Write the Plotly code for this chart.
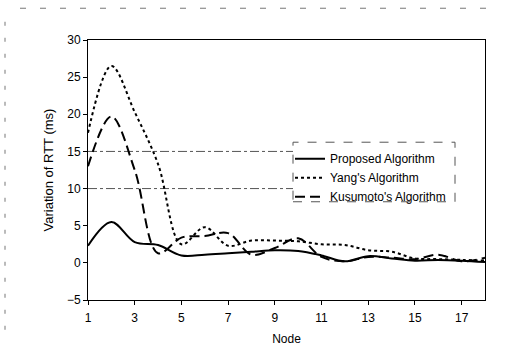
import plotly.graph_objects as go

nodes = list(range(1, 19))
proposed = [2.3, 5.5, 2.8, 2.4, 1.0, 1.1, 1.3, 1.5, 1.7, 1.6, 1.0, 0.2, 0.9, 0.6, 0.3, 0.4, 0.3, 0.1]
yang = [17.5, 26.5, 20.3, 13.3, 2.5, 4.8, 2.3, 3.0, 3.0, 2.9, 2.5, 2.4, 1.7, 1.5, 0.6, 0.5, 0.4, 0.3]
kusumoto = [13.0, 19.7, 12.5, 1.3, 3.4, 3.6, 4.0, 1.1, 2.0, 3.3, 0.8, 0.2, 0.8, 0.7, 0.5, 1.1, 0.2, 0.7]

x_ticks = [1, 3, 5, 7, 9, 11, 13, 15, 17]
y_ticks = [-5, 0, 5, 10, 15, 20, 25, 30]
grid_levels = [10, 15]

font = "Liberation Sans, Arial, sans-serif"

W, H = 526, 356
L, R, T, B = 88, 485, 40, 302
def px(v):
    return (v - L) / (R - L)
def py(v):
    return (B - v) / (B - T)

fig = go.Figure()
fig.add_trace(go.Scatter(x=nodes, y=proposed, name="Proposed Algorithm", mode="lines",
                         line=dict(color="black", width=2, shape="spline", smoothing=1.0)))
fig.add_trace(go.Scatter(x=nodes, y=yang, name="Yang's Algorithm", mode="lines",
                         line=dict(color="black", width=2, dash="dot", shape="spline", smoothing=1.0)))
fig.add_trace(go.Scatter(x=nodes, y=kusumoto, name="Kusumoto's Algorithm", mode="lines",
                         line=dict(color="black", width=2, dash="10px,5px", shape="spline", smoothing=1.0)))

shapes = []
for g in grid_levels:
    shapes.append(dict(type="line", xref="paper", yref="y", x0=0, x1=px(293), y0=g, y1=g,
                       line=dict(color="#555", width=1, dash="dashdot"), layer="below"))
# legend dashed box
shapes.append(dict(type="rect", xref="paper", yref="paper",
                   x0=px(293), x1=px(455), y0=py(203), y1=py(143),
                   line=dict(color="#555", width=1, dash="dash"), fillcolor="white"))
# scanned outer border fragments
shapes.append(dict(type="line", xref="paper", yref="paper", x0=px(5), x1=px(5),
                   y0=py(332), y1=py(10),
                   line=dict(color="#777", width=1, dash="4px,12px")))
shapes.append(dict(type="line", xref="paper", yref="paper", x0=px(20), x1=px(500),
                   y0=py(8), y1=py(8),
                   line=dict(color="#777", width=1, dash="6px,14px")))

fig.update_layout(
    width=W, height=H,
    margin=dict(l=L, r=W - R, t=T, b=H - B),
    paper_bgcolor="white", plot_bgcolor="white",
    font=dict(family=font, size=12, color="black"),
    showlegend=True,
    legend=dict(x=px(290), y=py(145), xanchor="left", yanchor="top",
                bgcolor="rgba(255,255,255,0)", borderwidth=0,
                font=dict(family=font, size=12), tracegroupgap=0, itemwidth=30),
    shapes=shapes,
    xaxis=dict(range=[1, 18], tickvals=x_ticks, showgrid=False, zeroline=False,
               showline=True, linecolor="black", linewidth=1, mirror=True,
               ticks="outside", ticklen=4, tickcolor="black", ticklabelstandoff=3,
               title=dict(text="Node", font=dict(size=12), standoff=10)),
    yaxis=dict(range=[-5, 30], tickvals=y_ticks, showgrid=False, zeroline=False,
               showline=True, linecolor="black", linewidth=1, mirror=True,
               ticks="outside", ticklen=4, tickcolor="black",
               title=dict(text="Variation of RTT (ms)", font=dict(size=13), standoff=10)),
)

fig.write_html("out.html")
